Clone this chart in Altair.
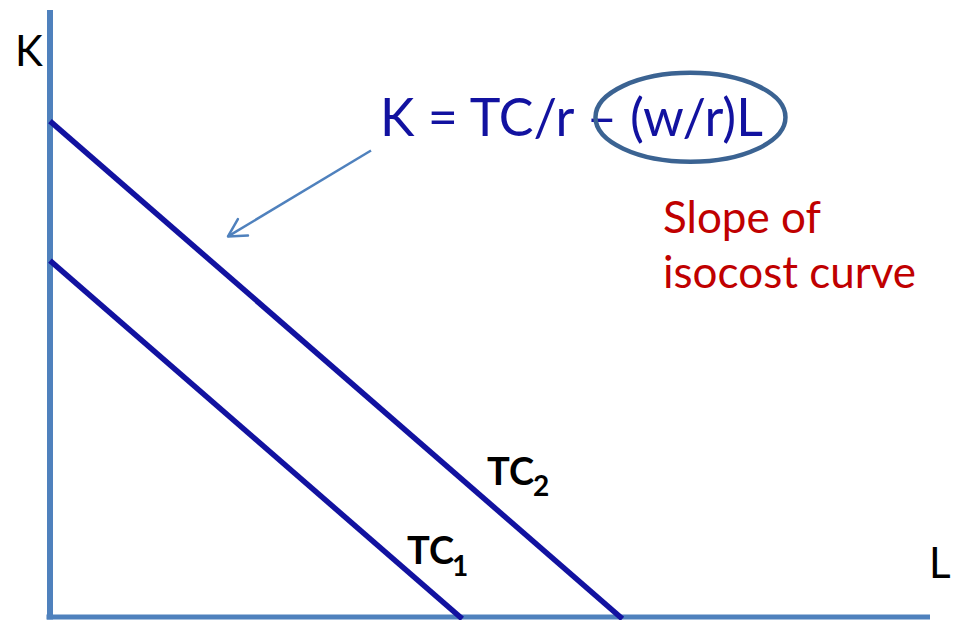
import altair as alt
import pandas as pd

# ---- data (in L / K units) ----
isocost_names = ["TC1", "TC2"]
k_intercepts = [5.87, 8.17]
l_ends = [4.684, 6.504]
k_end = -0.03

axis_top_k = 10.0
axis_right_l = 10.0

ellipse_L = [7.278]
ellipse_K = [8.232]

arrow_start = (3.648, 7.685)
arrow_tip = (2.023, 6.270)

text_labels = ["K = TC/r – (w/r)L", "Slope of", "isocost curve", "K", "L"]
text_L = [3.75, 6.966, 6.966, -0.398, 9.99]
text_K = [7.926, 6.318, 5.426, 9.084, 0.643]
text_group = ["eq", "red", "red", "axis", "axis"]

tc_main = ["TC", "TC"]
tc_main_L = [4.057, 4.966]
tc_main_K = [0.868, 2.170]
tc_sub = ["1", "2"]
tc_sub_L = [4.568, 5.489]
tc_sub_K = [0.675, 1.994]

# ---- tables ----
lines_df = pd.DataFrame({
    "series": [n for n in isocost_names for _ in range(2)],
    "L": [v for le in l_ends for v in (0.0, le)],
    "K": [v for ki in k_intercepts for v in (ki, k_end)],
})
yaxis_df = pd.DataFrame({"L": [0.0], "K": [-0.04], "K2": [axis_top_k]})
xaxis_df = pd.DataFrame({"L": [-0.04], "L2": [axis_right_l], "K": [0.0]})
ellipse_df = pd.DataFrame({"L": ellipse_L, "K": ellipse_K})
arrow_df = pd.DataFrame({"L": [arrow_start[0]], "K": [arrow_start[1]],
                         "L2": [arrow_tip[0]], "K2": [arrow_tip[1]]})
tip_df = pd.DataFrame({"L": [arrow_tip[0]], "K": [arrow_tip[1]]})
text_df = pd.DataFrame({"label": text_labels, "L": text_L, "K": text_K, "grp": text_group})
tcm_df = pd.DataFrame({"label": tc_main, "L": tc_main_L, "K": tc_main_K})
tcs_df = pd.DataFrame({"label": tc_sub, "L": tc_sub_L, "K": tc_sub_K})

xs = alt.Scale(domain=[0, 10], nice=False, zero=False)
ys = alt.Scale(domain=[0, 10], nice=False, zero=False)

def X(f="L"):
    return alt.X(f"{f}:Q", scale=xs, axis=None)

def Y(f="K"):
    return alt.Y(f"{f}:Q", scale=ys, axis=None)

AXIS_COLOR = "#4F81BD"
LINE_COLOR = "#1212A0"
FONT = "Lato"

yaxis = alt.Chart(yaxis_df).mark_rule(color=AXIS_COLOR, strokeWidth=6).encode(
    x=X(), y=Y(), y2="K2:Q")
xaxis = alt.Chart(xaxis_df).mark_rule(color=AXIS_COLOR, strokeWidth=5).encode(
    x=X(), x2="L2:Q", y=Y())

tc_lines = alt.Chart(lines_df).mark_line(color=LINE_COLOR, strokeWidth=5.5).encode(
    x=X(), y=Y(), detail="series:N")

ellipse = alt.Chart(ellipse_df).mark_point(
    shape="M -1 0 A 1 0.468 0 1 0 1 0 A 1 0.468 0 1 0 -1 0 Z",
    size=36100, filled=False, color="#3B6392", strokeWidth=4.5, opacity=1
).encode(x=X(), y=Y())

arrow = alt.Chart(arrow_df).mark_rule(color=AXIS_COLOR, strokeWidth=2.5).encode(
    x=X(), y=Y(), x2="L2:Q", y2="K2:Q")
arrow_head = alt.Chart(tip_df).mark_point(
    shape="M -1 -0.55 L 0 0 L -1 0.55", size=1225, filled=False,
    color=AXIS_COLOR, strokeWidth=2.5, opacity=1, angle=148.4,
    strokeCap="round", strokeJoin="round"
).encode(x=X(), y=Y())

eq_text = alt.Chart(text_df[text_df.grp == "eq"]).mark_text(
    align="left", baseline="alphabetic", font=FONT, fontSize=52, color=LINE_COLOR
).encode(x=X(), y=Y(), text="label:N")
red_text = alt.Chart(text_df[text_df.grp == "red"]).mark_text(
    align="left", baseline="alphabetic", font=FONT, fontSize=44, color="#C00000"
).encode(x=X(), y=Y(), text="label:N")
axis_text = alt.Chart(text_df[text_df.grp == "axis"]).mark_text(
    align="left", baseline="alphabetic", font=FONT, fontSize=42, color="black"
).encode(x=X(), y=Y(), text="label:N")
tcm_text = alt.Chart(tcm_df).mark_text(
    align="left", baseline="alphabetic", font=FONT, fontSize=38, fontWeight="bold", color="black"
).encode(x=X(), y=Y(), text="label:N")
tcs_text = alt.Chart(tcs_df).mark_text(
    align="left", baseline="alphabetic", font=FONT, fontSize=28, fontWeight="bold", color="black"
).encode(x=X(), y=Y(), text="label:N")

chart = alt.layer(
    yaxis, xaxis, tc_lines, arrow, arrow_head, eq_text, ellipse,
    red_text, axis_text, tcm_text, tcs_text
).properties(
    width=880, height=607,
    autosize=alt.AutoSizeParams(type="none"),
    padding={"left": 42, "top": 2, "right": 25, "bottom": 3},
    background="white",
).configure_view(stroke=None)

chart.save("out.html", embed_options={"renderer": "svg", "actions": False})
